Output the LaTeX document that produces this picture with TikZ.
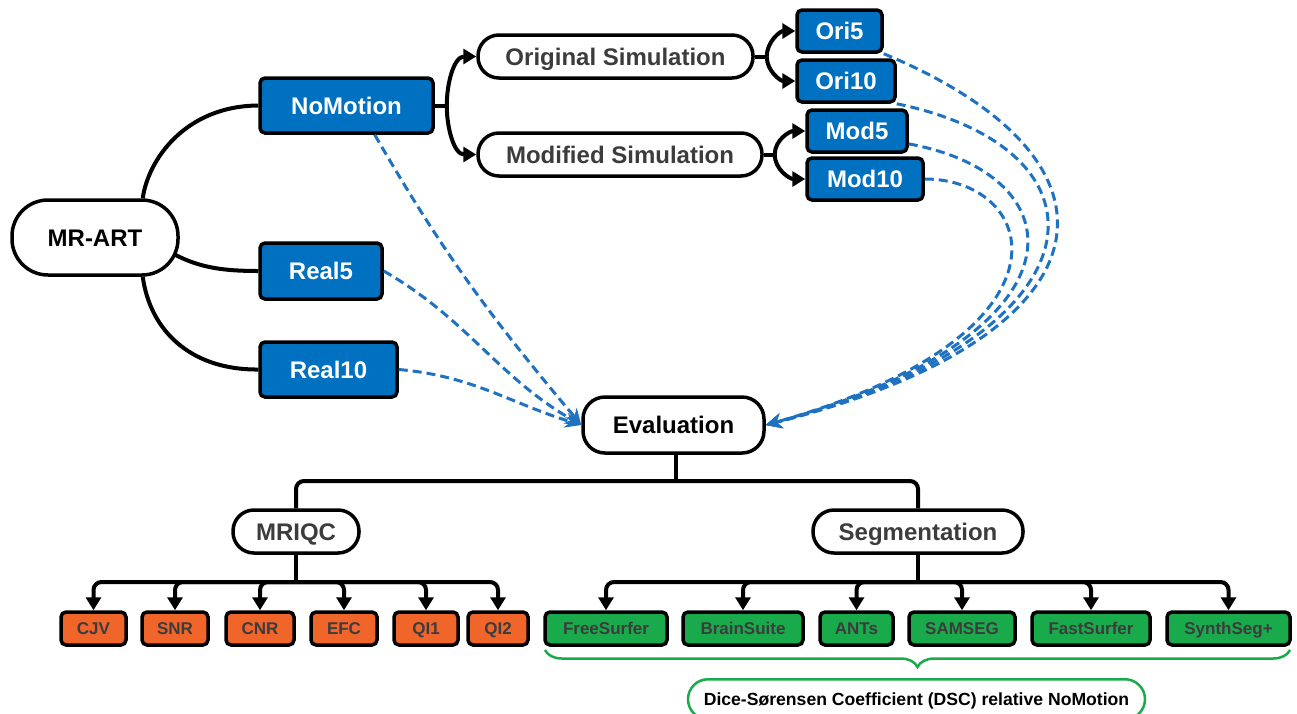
\documentclass[tikz,border=0pt]{standalone}
\usepackage{fontspec}
\setmainfont{Liberation Sans}
\usetikzlibrary{arrows.meta,decorations.pathreplacing,calc}
\definecolor{boxblue}{HTML}{0070C0}
\definecolor{dashblue}{HTML}{1F72C2}
\definecolor{boxorange}{HTML}{F0652A}
\definecolor{boxgreen}{HTML}{19AA4B}
\definecolor{txtgray}{HTML}{3C3C3C}
\begin{document}
\begin{tikzpicture}[x=1pt,y=1pt,
  bigfont/.style={font=\fontsize{24}{28}\selectfont\bfseries, text height=17pt, text depth=0pt},
  smallfont/.style={font=\fontsize{17}{20}\selectfont\bfseries, text height=12.2pt, text depth=0pt},
  bluebox/.style={bigfont, draw=black, line width=3.5pt, fill=boxblue, rounded corners=5pt, inner sep=0pt, text=white},
  pill/.style={bigfont, draw=black, line width=3.5pt, fill=white, inner sep=0pt, text=txtgray},
  orangebox/.style={smallfont, draw=black, line width=3.5pt, fill=boxorange, rounded corners=5pt, inner sep=0pt, minimum height=33pt, text=txtgray},
  greenbox/.style={smallfont, draw=black, line width=3.5pt, fill=boxgreen, rounded corners=5pt, inner sep=0pt, minimum height=33pt, text=txtgray},
  link/.style={line width=4pt, draw=black},
  arr/.style={-{Triangle[length=13pt,width=15pt]}},
  bluedash/.style={draw=dashblue, line width=3pt, dash pattern=on 9pt off 5pt, -{Stealth[length=16pt,width=15pt]}},
  greenline/.style={draw=boxgreen, line width=2.5pt}
]
\useasboundingbox (0,0) rectangle (1297,-713);
\clip (0,0) rectangle (1297,-713);

% top-level nodes
\node[pill, text=black, minimum width=166pt, minimum height=75pt, rounded corners=36pt] (mrart) at (95,-237.5) {MR-ART};
\node[bluebox, minimum width=173pt, minimum height=55pt] (nomotion) at (346.5,-105.5) {NoMotion};
\node[bluebox, minimum width=122pt, minimum height=56pt] (real5) at (321,-271) {Real5};
\node[bluebox, minimum width=137pt, minimum height=55pt] (real10) at (328.5,-369.5) {Real10};

\node[pill, minimum width=275pt, minimum height=43pt, rounded corners=21pt] (origsim) at (615.5,-56.5) {Original Simulation};
\node[pill, minimum width=284pt, minimum height=43pt, rounded corners=21pt] (modsim) at (620,-154.5) {Modified Simulation};

\node[bluebox, minimum width=85pt, minimum height=42pt] (ori5) at (839.5,-31) {Ori5};
\node[bluebox, minimum width=98pt, minimum height=42pt] (ori10) at (846,-81) {Ori10};
\node[bluebox, minimum width=100pt, minimum height=42pt] (mod5) at (857,-131) {Mod5};
\node[bluebox, minimum width=116pt, minimum height=42pt] (mod10) at (865,-179) {Mod10};

\node[pill, text=black, minimum width=181pt, minimum height=56pt, rounded corners=22pt] (eval) at (673.5,-425) {Evaluation};

\node[pill, minimum width=126pt, minimum height=43pt, rounded corners=21pt] (mriqc) at (296,-531.5) {MRIQC};
\node[pill, minimum width=210pt, minimum height=43pt, rounded corners=21pt] (seg) at (918,-531.5) {Segmentation};

% metric boxes
\node[orangebox, minimum width=65pt] (cjv) at (93.5,-628.5) {CJV};
\node[orangebox, minimum width=66pt] (snr) at (175,-628.5) {SNR};
\node[orangebox, minimum width=68pt] (cnr) at (260,-628.5) {CNR};
\node[orangebox, minimum width=66pt] (efc) at (344,-628.5) {EFC};
\node[orangebox, minimum width=64pt] (qi1) at (426,-628.5) {QI1};
\node[orangebox, minimum width=60pt] (qi2) at (498,-628.5) {QI2};

\node[greenbox, minimum width=122pt] (fs) at (606,-628.5) {FreeSurfer};
\node[greenbox, minimum width=120pt] (bs) at (743,-628.5) {BrainSuite};
\node[greenbox, minimum width=73pt] (ants) at (856.5,-628.5) {ANTs};
\node[greenbox, minimum width=106pt] (samseg) at (962,-628.5) {SAMSEG};
\node[greenbox, minimum width=118pt] (fast) at (1091,-628.5) {FastSurfer};
\node[greenbox, minimum width=123pt] (synth) at (1228.5,-628.5) {SynthSeg+};

\node[smallfont, font=\fontsize{17.6}{20}\selectfont\bfseries, draw=boxgreen, line width=2.5pt, rounded corners=20pt, minimum width=457pt, minimum height=40pt, inner sep=0pt, text=black, anchor=north] (dice) at (916.5,-678) {Dice-Sørensen Coefficient (DSC) relative NoMotion};

% MR-ART links
\draw[link] ($(mrart.north east)+(-37,0)$) .. controls (148,-160) and (185,-106) .. (nomotion.west);
\draw[link] ($(mrart.east)+(-5,-17)$) .. controls (200,-268) and (225,-271) .. (real5.west);
\draw[link] ($(mrart.south east)+(-37,0)$) .. controls (150,-330) and (190,-370) .. (real10.west);

% NoMotion branches
\coordinate (nmsplit) at ($(nomotion.east)+(12,0)$);
\draw[link] (nomotion.east) -- (nmsplit);
\draw[link, arr] (nmsplit) to[out=90,in=180] (origsim.west);
\draw[link, arr] (nmsplit) to[out=-90,in=180] (modsim.west);

\coordinate (ossplit) at ($(origsim.east)+(12,0)$);
\draw[link] (origsim.east) -- (ossplit);
\draw[link, arr] (ossplit) to[out=90,in=180] (ori5.west);
\draw[link, arr] (ossplit) to[out=-90,in=180] (ori10.west);

\coordinate (mssplit) at ($(modsim.east)+(11,0)$);
\draw[link] (modsim.east) -- (mssplit);
\draw[link, arr] (mssplit) to[out=90,in=180] (mod5.west);
\draw[link, arr] (mssplit) to[out=-90,in=180] (mod10.west);

% dashed links to Evaluation
\draw[bluedash] (nomotion.-46) to[out=-60,in=130] (eval.west);
\draw[bluedash] (real5.east) to[out=-30,in=150] (eval.west);
\draw[bluedash] (real10.east) to[out=-5,in=163] (eval.west);

\draw[bluedash] (ori5.south east) .. controls (1140,-160) and (1120,-335) .. (eval.east);
\draw[bluedash] (ori10.south east) .. controls (1120,-150) and (1110,-335) .. (eval.east);
\draw[bluedash] (mod5.-14) .. controls (1080,-175) and (1092,-335) .. (eval.east);
\draw[bluedash] (mod10.east) .. controls (1040,-179) and (1085,-335) .. (eval.east);

% Evaluation tree
\coordinate (evbar) at (676,-481);
\draw[link] ($(eval.south)+(2.5,0)$) -- (evbar);
\draw[link, rounded corners=8pt] (mriqc.north) |- (evbar) -| (seg.north);

% MRIQC tree
\coordinate (mbar) at (296,-582);
\draw[link] (mriqc.south) -- (mbar);
\foreach \b in {cjv,snr,cnr,efc,qi1,qi2}
  \draw[link, arr, rounded corners=8pt] (mbar) -| (\b.north);

% Segmentation tree
\coordinate (sbar) at (918,-582);
\draw[link] (seg.south) -- (sbar);
\foreach \b in {fs,bs,ants,samseg,fast,synth}
  \draw[link, arr, rounded corners=8pt] (sbar) -| (\b.north);

% brace
\draw[greenline, decorate, decoration={brace, mirror, amplitude=17pt}] (545,-650) -- (1290,-650);
\end{tikzpicture}
\end{document}
